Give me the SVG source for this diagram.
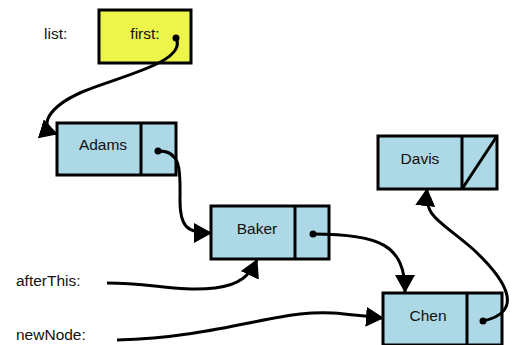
<svg xmlns="http://www.w3.org/2000/svg" width="514" height="345" viewBox="0 0 514 345">
  <style>
    .box { fill: #add8e6; stroke: #000; stroke-width: 3; }
    .head { fill: #edf54a; stroke: #000; stroke-width: 3; }
    .div { stroke: #000; stroke-width: 3; fill: none; }
    .lbl { font-family: "Liberation Sans", Arial, sans-serif; font-size: 15.5px; fill: #111; }
    .mid { text-anchor: middle; }
    .link { fill: none; stroke: #000; stroke-width: 3; marker-end: url(#arrow); }
    .dot { fill: #000; }
  </style>
  <defs>
    <marker id="arrow" markerUnits="userSpaceOnUse" markerWidth="18" markerHeight="20" viewBox="0 0 18 20" refX="17" refY="10" orient="auto">
      <path d="M0,0 L18,10 L0,20 Z" fill="#000"/>
    </marker>
  </defs>

  <rect width="514" height="345" fill="#fff"/>

  <!-- variable labels -->
  <text class="lbl" x="44" y="39">list:</text>
  <text class="lbl" x="16" y="286">afterThis:</text>
  <text class="lbl" x="16" y="340">newNode:</text>

  <!-- list header -->
  <g id="list">
    <rect class="head" x="99" y="10" width="92" height="53"/>
    <text class="lbl mid" x="145" y="39">first:</text>
  </g>

  <g id="adams">
    <rect class="box" x="57" y="123" width="119" height="52"/>
    <line class="div" x1="141" y1="123" x2="141" y2="175"/>
    <text class="lbl mid" x="103" y="150">Adams</text>
  </g>

  <g id="baker">
    <rect class="box" x="211" y="206" width="118" height="53"/>
    <line class="div" x1="295" y1="206" x2="295" y2="259"/>
    <text class="lbl mid" x="257" y="234">Baker</text>
  </g>

  <g id="chen">
    <rect class="box" x="383" y="293" width="119" height="52"/>
    <line class="div" x1="467" y1="293" x2="467" y2="345"/>
    <text class="lbl mid" x="428" y="321">Chen</text>
  </g>

  <g id="davis">
    <rect class="box" x="378" y="136" width="119" height="53"/>
    <line class="div" x1="462" y1="136" x2="462" y2="189"/>
    <line class="div" x1="462" y1="189" x2="497" y2="136"/>
    <text class="lbl mid" x="420" y="164">Davis</text>
  </g>

  <g id="connectors">
    <path class="link" d="M176,38 C188,62 120,76 82,92 C46,108 38,128 57,134"/>
    <path class="link" d="M158,151 C183,150 180,175 180,200 C180,226 186,233 211,233"/>
    <path class="link" d="M313,234 C380,234 405,245 405,292"/>
    <path class="link" d="M483,321 C524,312 508,282 474,250 C440,220 424,218 427,189"/>
    <path class="link" d="M107,283 C150,283 180,292 215,288 C240,285 250,275 257,260"/>
    <path class="link" d="M117,340 C200,338 260,318 300,314 C335,310 355,316 383,318"/>
    <circle class="dot" cx="176" cy="38" r="3.5"/>
    <circle class="dot" cx="158" cy="151" r="3.5"/>
    <circle class="dot" cx="313" cy="234" r="3.5"/>
    <circle class="dot" cx="483" cy="321" r="3.5"/>
  </g>
</svg>
